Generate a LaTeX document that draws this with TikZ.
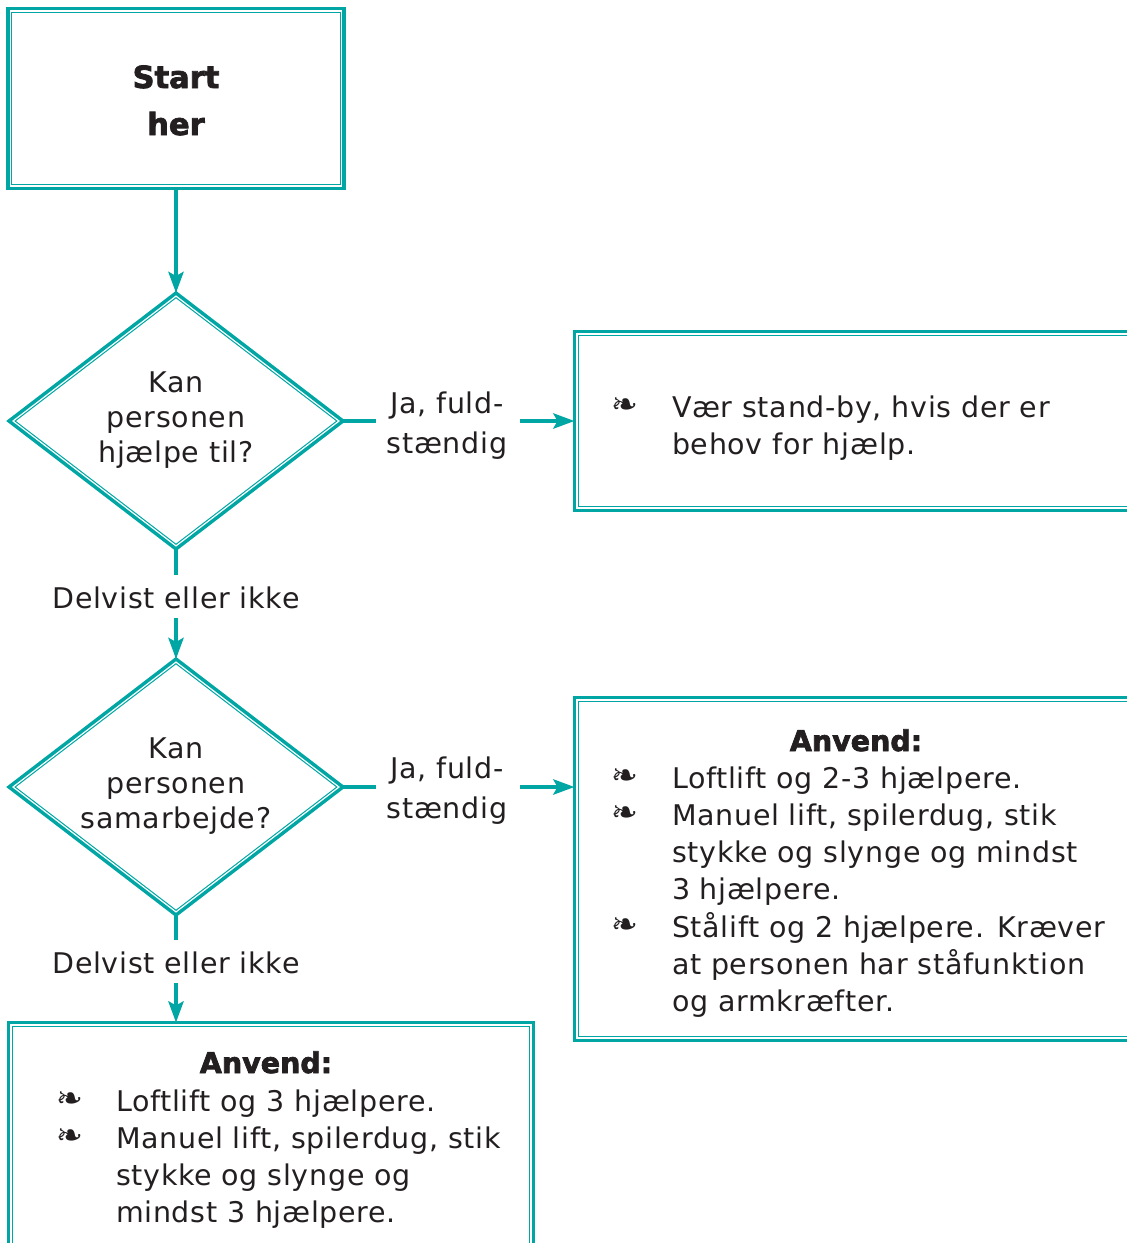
\documentclass[tikz,border=0pt]{standalone}
\usepackage{fontspec}
\setmainfont{DejaVu Sans}[LetterSpace=2.5]
\newfontface\heavy{DejaVu Sans Bold}[FakeBold=2.5]
\newfontface\symf{DejaVu Sans}
\usetikzlibrary{shapes.geometric,arrows.meta}
\definecolor{tealc}{RGB}{0,166,164}
\definecolor{ink}{RGB}{35,31,32}
\newcommand{\boxlines}[2][37.3]{\parbox[t]{600pt}{\raggedright\fontsize{28.5}{#1}\selectfont #2}}
\newcommand{\midlines}[2][35]{\parbox[t]{330pt}{\centering\fontsize{28.5}{#1}\selectfont #2}}
\begin{document}
\begin{tikzpicture}[x=1pt,y=-1pt,
  every node/.style={inner sep=0pt,outer sep=0pt,text=ink},
  outerline/.style={draw=tealc,line width=3.4pt},
  innerline/.style={draw=tealc,line width=1pt},
  conn/.style={draw=tealc,line width=4.5pt},
  arr/.style={conn,-{Stealth[length=21pt,width=15pt,inset=4pt]}},
  bul/.style={font=\symf\fontsize{32}{32}\selectfont,anchor=center},
  txt/.style={anchor=base west},
  ctr/.style={anchor=base},
  hd/.style={anchor=base,font=\heavy\fontsize{28.5}{28.5}\selectfont},
  dia/.style={diamond,aspect=1.3,minimum width=334pt,minimum height=256pt},
  diain/.style={diamond,aspect=1.3,minimum width=321.8pt,minimum height=246.6pt}]
\useasboundingbox (0,0) rectangle (1127,1243);
\clip (0,0) rectangle (1127,1243);

% start box
\node[outerline,rectangle,minimum width=336pt,minimum height=180pt] (start) at (176,98.5) {};
\node[innerline,rectangle,minimum width=328.4pt,minimum height=172.4pt] (startin) at (start.center) {};
\node[anchor=base,font=\heavy\fontsize{30.5}{30.5}\selectfont] (t1) at (176,88) {Start};
\node[anchor=base,font=\heavy\fontsize{30.5}{30.5}\selectfont] (t2) at (176,135) {her};

% diamond 1
\node[outerline,dia] (d1) at (176,421) {};
\node[innerline,diain] (d1in) at (d1.center) {};
\node[ctr] (q1) at (176,392) {\midlines{Kan\\personen\\hjælpe til?}};

% diamond 2
\node[outerline,dia] (d2) at (176,787) {};
\node[innerline,diain] (d2in) at (d2.center) {};
\node[ctr] (q2) at (176,758) {\midlines{Kan\\personen\\samarbejde?}};

% box 2
\node[outerline,rectangle,minimum width=565.5pt,minimum height=179pt] (b2) at (857.25,421) {};
\node[innerline,rectangle,minimum width=557.9pt,minimum height=171.4pt] (b2in) at (b2.center) {};
\node[bul] (b2s1) at (625,406) {❧};
\node[txt] (b2t1) at (672,417) {\boxlines[37]{Vær stand-by, hvis der er\\behov for hjælp.}};

% box 3
\node[outerline,rectangle,minimum width=565.5pt,minimum height=343pt] (b3) at (857.25,869) {};
\node[innerline,rectangle,minimum width=557.9pt,minimum height=335.4pt] (b3in) at (b3.center) {};
\node[hd] (b3h) at (856,751) {Anvend:};
\node[bul] (b3s1) at (625,777) {❧};
\node[bul] (b3s2) at (625,814.3) {❧};
\node[bul] (b3s3) at (625,926.2) {❧};
\node[txt] (b3t1) at (672,788) {\boxlines{Loftlift og 2-3 hjælpere.}};
\node[txt] (b3t2) at (672,825.3) {\boxlines{Manuel lift, spilerdug, stik\\stykke og slynge og mindst\\3 hjælpere.}};
\node[txt] (b3t3) at (672,937.2) {\boxlines{Stålift og 2 hjælpere. Kræver\\at personen har ståfunktion\\og armkræfter.}};

% box 4
\node[outerline,rectangle,minimum width=525pt,minimum height=240pt] (b4) at (271,1142.5) {};
\node[innerline,rectangle,minimum width=517.4pt,minimum height=232.4pt] (b4in) at (b4.center) {};
\node[hd] (b4h) at (266,1073) {Anvend:};
\node[bul] (b4s1) at (70,1100) {❧};
\node[bul] (b4s2) at (70,1137) {❧};
\node[txt] (b4t1) at (116,1111) {\boxlines[37]{Loftlift og 3 hjælpere.}};
\node[txt] (b4t2) at (116,1148) {\boxlines[37]{Manuel lift, spilerdug, stik\\stykke og slynge og\\mindst 3 hjælpere.}};

% labels
\node[ctr] (ja1) at (447,413) {\midlines[40]{Ja, fuld-\\stændig}};
\node[ctr] (ja2) at (447,778) {\midlines[40]{Ja, fuld-\\stændig}};
\node[ctr] (no1) at (176,608) {\midlines{Delvist eller ikke}};
\node[ctr] (no2) at (176,973) {\midlines{Delvist eller ikke}};

% connector end points
\coordinate (ja1a) at (376,421);
\coordinate (ja1b) at (520,421);
\coordinate (ja2a) at (376,787);
\coordinate (ja2b) at (520,787);
\coordinate (no1a) at (176,575);
\coordinate (no1b) at (176,618);
\coordinate (no2a) at (176,940);
\coordinate (no2b) at (176,983);

% connectors
\draw[arr] (start.south) -- (d1.north);
\draw[conn] (d1.east) -- (ja1a);
\draw[arr] (ja1b) -- (b2.west);
\draw[conn] (d1.south) -- (no1a);
\draw[arr] (no1b) -- (d2.north);
\draw[conn] (d2.east) -- (ja2a);
\draw[arr] (ja2b) -- (b3.west |- ja2b);
\draw[conn] (d2.south) -- (no2a);
\draw[arr] (no2b) -- (no2b |- b4.north);
\end{tikzpicture}
\end{document}
